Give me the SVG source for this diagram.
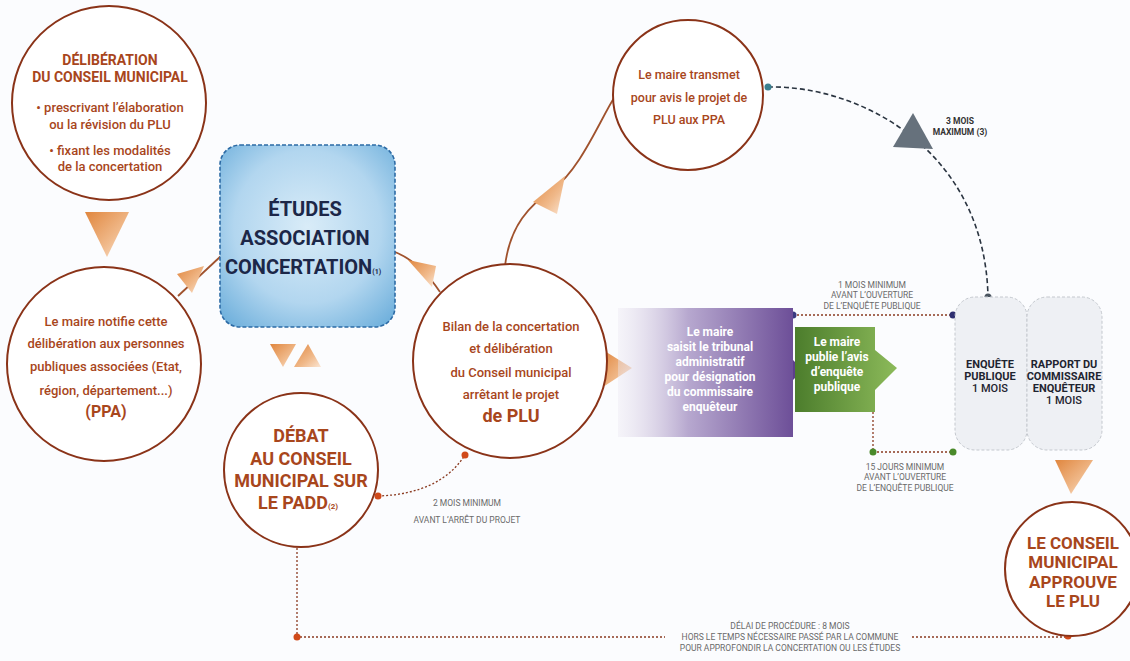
<svg xmlns="http://www.w3.org/2000/svg" width="1130" height="661" viewBox="0 0 1130 661">
<defs>
<style>
.circ{fill:#ffffff;stroke:#8a3318;stroke-width:2}
.t{font-family:Roboto,"Liberation Sans",sans-serif;fill:#a8461c;text-anchor:middle;font-weight:500}
.b{font-weight:700}
.w{font-family:Roboto,"Liberation Sans",sans-serif;fill:#ffffff;text-anchor:middle;font-weight:700;font-size:12px}
.k{font-family:Roboto,"Liberation Sans",sans-serif;fill:#1e2430;text-anchor:middle;font-weight:700;font-size:11px}
.g{font-family:Roboto,"Liberation Sans",sans-serif;fill:#6a6a6a;text-anchor:middle;font-size:8.5px}
.ln{fill:none;stroke:#a0522d;stroke-width:1.8}
.dot{fill:none;stroke:#8a3a20;stroke-width:1.3;stroke-dasharray:2 2}
.dsh{fill:none;stroke:#2a3440;stroke-width:1.6;stroke-dasharray:5 3}
.tri{fill:url(#og)}
</style>
<linearGradient id="og" x1="0" y1="0" x2="1" y2="1">
<stop offset="0" stop-color="#e0863e"/>
<stop offset="0.6" stop-color="#f0b98a"/>
<stop offset="1" stop-color="#fbe6d4"/>
</linearGradient>
<radialGradient id="bg" cx="0.5" cy="0.45" r="0.7">
<stop offset="0" stop-color="#d9ecf8"/>
<stop offset="0.6" stop-color="#b2d6ef"/>
<stop offset="1" stop-color="#6fb0dc"/>
</radialGradient>
<linearGradient id="pg" x1="0" y1="0" x2="1" y2="0">
<stop offset="0" stop-color="#ece8f2" stop-opacity="0.4"/>
<stop offset="0.4" stop-color="#b7a8cf"/>
<stop offset="1" stop-color="#6d4f98"/>
</linearGradient>
<linearGradient id="gg" x1="0" y1="0" x2="1" y2="0">
<stop offset="0" stop-color="#4c7d2c"/>
<stop offset="1" stop-color="#8cba5a"/>
</linearGradient>
</defs>
<rect width="1130" height="661" fill="#fbfcfe"/>

<g id="connectors">
<path class="ln" d="M178,296 L221,256"/>
<path class="ln" d="M395,252 Q420,262 440,292"/>
<path class="ln" d="M505,266 C510,225 530,205 552,190 C580,170 600,120 614,98"/>
<path class="dot" d="M378,496 Q440,494 465,455"/>
<path class="dsh" d="M768,87 C860,85 985,150 988,297"/>
<path class="dot" d="M793,315 L953,315"/>
<path class="dot" d="M873,412 L873,452 L953,452"/>
<path class="dot" d="M297,548 L297,637 L665,637"/>
<path class="dot" d="M912,637 L1068,637"/>
<polygon class="tri" points="85,212 129,212 107,257"/>
<polygon class="tri" points="177,274 204,266 192,293"/>
<polygon class="tri" points="408,260 436,266 432,287"/>
<polygon class="tri" points="270,344 296,344 283,367"/>
<polygon class="tri" points="294,367 321,367 308,344"/>
<polygon class="tri" points="533,202 557,214 565,176"/>
<polygon class="tri" points="603,350 603,387 632,368"/>
<polygon class="tri" points="1055,460 1093,460 1071,494"/>
<polygon points="893,147 913,113 933,149" fill="#66717c"/>
<polygon points="1023,363 1023,381 1032,372" fill="#6e7680"/>
<polygon points="793,360 793,380 803,370" fill="#5d3f8a"/>
<circle cx="378" cy="496" r="3.5" fill="#d04a1a"/>
<circle cx="465" cy="455" r="3.5" fill="#d04a1a"/>
<circle cx="768" cy="87" r="3.5" fill="#3a7f8f"/>
<circle cx="793" cy="315" r="3.5" fill="#3a3a80"/>
<circle cx="953" cy="315" r="3.5" fill="#2e2e70"/>
<circle cx="873" cy="452" r="3.5" fill="#4a8a2a"/>
<circle cx="953" cy="452" r="3.5" fill="#4a8a2a"/>
<circle cx="988" cy="297" r="3.5" fill="#4a5560"/>
<circle cx="297" cy="637" r="3.5" fill="#d04a1a"/>
<circle cx="1068" cy="636" r="3.5" fill="#d04a1a"/>
<text class="g"><tspan x="467" y="506">2 MOIS MINIMUM</tspan><tspan x="467" y="523">AVANT L’ARRÊT DU PROJET</tspan></text>
<text class="g" style="font-weight:700;fill:#333"><tspan x="960" y="124">3 MOIS</tspan><tspan x="960" y="135">MAXIMUM (3)</tspan></text>
<text class="g"><tspan x="872" y="288">1 MOIS MINIMUM</tspan><tspan x="872" y="298">AVANT L’OUVERTURE</tspan><tspan x="872" y="309">DE L’ENQUÊTE PUBLIQUE</tspan></text>
<text class="g"><tspan x="905" y="470">15 JOURS MINIMUM</tspan><tspan x="905" y="480">AVANT L’OUVERTURE</tspan><tspan x="905" y="491">DE L’ENQUÊTE PUBLIQUE</tspan></text>
<text class="g"><tspan x="790" y="629">DÉLAI DE PROCÉDURE : 8 MOIS</tspan><tspan x="790" y="640">HORS LE TEMPS NÉCESSAIRE PASSÉ PAR LA COMMUNE</tspan><tspan x="790" y="651">POUR APPROFONDIR LA CONCERTATION OU LES ÉTUDES</tspan></text>
</g>

<g id="n1">
<circle class="circ" cx="109" cy="103" r="97"/>
<text class="t b" font-size="14"><tspan x="110" y="65">DÉLIBÉRATION</tspan><tspan x="110" y="82">DU CONSEIL MUNICIPAL</tspan></text>
<text class="t" font-size="13"><tspan x="110" y="112">• prescrivant l’élaboration</tspan><tspan x="110" y="129">ou la révision du PLU</tspan><tspan x="110" y="155">• fixant les modalités</tspan><tspan x="110" y="171">de la concertation</tspan></text>
</g>

<g id="n2">
<circle class="circ" cx="104" cy="364" r="97"/>
<text class="t" font-size="13"><tspan x="106" y="326">Le maire notifie cette</tspan><tspan x="106" y="348">délibération aux personnes</tspan><tspan x="106" y="371">publiques associées (Etat,</tspan><tspan x="106" y="395">région, département...)</tspan></text>
<text class="t b" font-size="16" x="106" y="417">(PPA)</text>
</g>

<g id="n3">
<rect x="220" y="145" width="175" height="182" rx="20" fill="url(#bg)" stroke="#2d6ba5" stroke-width="1.6" stroke-dasharray="4 2"/>
<text font-family="Roboto,'Liberation Sans',sans-serif" font-weight="700" font-size="20" fill="#1c2748" text-anchor="middle"><tspan x="305" y="216">ÉTUDES</tspan><tspan x="305" y="245">ASSOCIATION</tspan><tspan x="303" y="274">CONCERTATION<tspan font-size="7">(1)</tspan></tspan></text>
</g>

<g id="n4">
<circle class="circ" cx="510" cy="361" r="97"/>
<text class="t" font-size="13"><tspan x="511" y="331">Bilan de la concertation</tspan><tspan x="511" y="353">et délibération</tspan><tspan x="511" y="377">du Conseil municipal</tspan><tspan x="511" y="399">arrêtant le projet</tspan></text>
<text class="t b" font-size="18" x="511" y="422">de PLU</text>
</g>

<g id="n5">
<circle class="circ" cx="301" cy="470" r="77"/>
<text class="t b" font-size="18"><tspan x="301" y="442">DÉBAT</tspan><tspan x="301" y="465">AU CONSEIL</tspan><tspan x="301" y="487">MUNICIPAL SUR</tspan><tspan x="298" y="509">LE PADD<tspan font-size="8">(2)</tspan></tspan></text>
</g>

<g id="n6">
<circle class="circ" cx="688" cy="95" r="75"/>
<text class="t" font-size="12.5"><tspan x="689" y="79">Le maire transmet</tspan><tspan x="689" y="102">pour avis le projet de</tspan><tspan x="689" y="124">PLU aux PPA</tspan></text>
</g>

<g id="n7">
<rect x="618" y="308" width="175" height="129" fill="url(#pg)"/>
<text class="w"><tspan x="710" y="336">Le maire</tspan><tspan x="710" y="351">saisit le tribunal</tspan><tspan x="710" y="366">administratif</tspan><tspan x="710" y="381">pour désignation</tspan><tspan x="710" y="396">du commissaire</tspan><tspan x="710" y="411">enquêteur</tspan></text>
</g>

<g id="n8">
<polygon points="795,327 875,327 875,350 897,368 875,390 875,412 795,412" fill="url(#gg)"/>
<text class="w"><tspan x="837" y="346">Le maire</tspan><tspan x="837" y="361">publie l’avis</tspan><tspan x="837" y="376">d’enquête</tspan><tspan x="837" y="391">publique</tspan></text>
</g>

<g id="n9">
<rect x="955" y="297" width="72" height="153" rx="20" fill="#eef0f4" stroke="#c4c8ce" stroke-width="1" stroke-dasharray="3 2"/>
<text class="k"><tspan x="990" y="368">ENQUÊTE</tspan><tspan x="990" y="380">PUBLIQUE</tspan><tspan x="990" y="392" font-weight="500">1 MOIS</tspan></text>
</g>

<g id="n10">
<rect x="1027" y="297" width="75" height="153" rx="20" fill="#eef0f4" stroke="#c4c8ce" stroke-width="1" stroke-dasharray="3 2"/>
<text class="k"><tspan x="1064" y="368">RAPPORT DU</tspan><tspan x="1064" y="380">COMMISSAIRE</tspan><tspan x="1064" y="392">ENQUÊTEUR</tspan><tspan x="1064" y="404" font-weight="500">1 MOIS</tspan></text>
</g>

<g id="n11">
<circle class="circ" cx="1072" cy="569" r="67"/>
<text class="t b" font-size="17"><tspan x="1073" y="549">LE CONSEIL</tspan><tspan x="1073" y="568">MUNICIPAL</tspan><tspan x="1073" y="588">APPROUVE</tspan><tspan x="1073" y="607">LE PLU</tspan></text>
</g>
</svg>
